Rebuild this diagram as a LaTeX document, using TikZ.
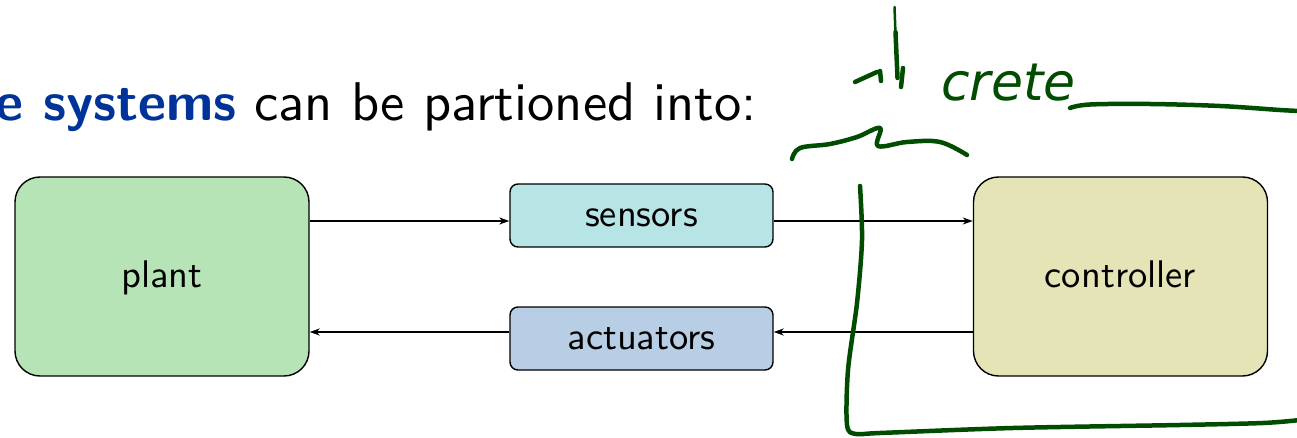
\documentclass[tikz,border=0pt]{standalone}
\usepackage{fontspec}
\usetikzlibrary{arrows.meta}
\newfontfamily\lmsf{lmsans10-regular}[Extension=.otf,BoldFont=lmsans10-bold]
\newfontfamily\inkfont{DejaVu Sans}
\definecolor{titleblue}{RGB}{0,51,153}
\definecolor{ink}{RGB}{0,76,0}
\definecolor{plantfill}{RGB}{183,228,183}
\definecolor{sensfill}{RGB}{183,228,228}
\definecolor{actfill}{RGB}{184,206,228}
\definecolor{ctrlfill}{RGB}{228,228,183}
\begin{document}
\begin{tikzpicture}[x=1pt,y=-1pt,
  boxtext/.style={font=\lmsf\fontsize{38.5}{44}\selectfont,text height=26.6pt,text depth=3.8pt},
  bigbox/.style={boxtext,draw=black,line width=1.4pt,rounded corners=25pt,
    minimum width=294pt,minimum height=199pt,inner sep=0pt},
  smallbox/.style={boxtext,draw=black,line width=1.4pt,rounded corners=8pt,
    minimum width=263pt,minimum height=63pt,inner sep=0pt},
  link/.style={line width=1.2pt,-{Stealth[length=10pt,width=7pt,inset=3pt]}},
  pen/.style={draw=ink,line width=4.5pt,line cap=round,line join=round}]
\useasboundingbox (0,0) rectangle (1297,438);
\clip (0,0) rectangle (1297,438);

% heading line
\node[anchor=base east,inner sep=0pt,font=\lmsf\fontsize{54.5}{62}\selectfont]
  (title) at (757,121) {{\color{titleblue}\bfseries e systems} can be partioned into:};

% blocks
\node[bigbox,fill=plantfill] (plant) at (162,276.5) {plant};
\node[bigbox,fill=ctrlfill] (ctrl) at (1120.5,276.5) {controller};
\node[smallbox,fill=sensfill] (sens) at (641.5,215.5) {sensors};
\node[smallbox,fill=actfill] (act) at (641.5,338.5) {actuators};

% signal levels
\coordinate (up) at (0,221);
\coordinate (lo) at (0,332);

% connectors
\draw[link] (plant.east |- up) -- (sens.west |- up);
\draw[link] (sens.east |- up) -- (ctrl.west |- up);
\draw[link] (ctrl.west |- lo) -- (act.east |- lo);
\draw[link] (act.west |- lo) -- (plant.east |- lo);

% ink annotations
\draw[pen] (855,82) -- (877,72);
\draw[pen] (880,71) -- (881,81);
\draw[pen] (897.5,78) -- (895.5,32);
\draw[draw=ink,line width=2.5pt,line cap=round] (895.5,34) -- (894.5,7);
\draw[pen] (903,68) -- (901,87);
\node[anchor=base west,inner sep=0pt,text=ink,font=\inkfont\itshape\fontsize{52}{58}\selectfont]
  (word) at (941,101) {crete};
\draw[pen] plot[smooth,tension=0.6] coordinates {(1070,108) (1090,104.5) (1150,104) (1220,106) (1280,110) (1300,111)};
\draw[pen] plot[smooth,tension=0.6] coordinates {(792,159) (800,148) (830,144) (857,137) (880,128) (878,146) (907,142) (940,142) (967,155)};
\draw[pen] plot[smooth,tension=0.5] coordinates {(860,186) (862,240) (857,303) (848,370) (847,425) (856,434) (880,433) (1013,428) (1180,425) (1263,423) (1300,420)};
\end{tikzpicture}
\end{document}
